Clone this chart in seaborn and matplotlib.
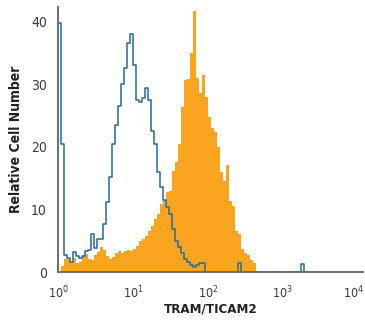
import numpy as np
import pandas as pd
import matplotlib
matplotlib.use("Agg")
import matplotlib.pyplot as plt
import matplotlib.ticker as mticker
import matplotlib.transforms as mtransforms
import seaborn as sns

# ── Histogram data (channel counts, 0.04-decade bins starting at 10^0) ──
BIN_WIDTH = 0.04   # log10 units

# isotype control (blue outline)
control_counts = [
    39.7, 20.5, 2.7, 2.3, 1.6, 3.2, 2.5, 2.2, 2.6, 3.3,
    3.5, 6.0, 3.8, 5.2, 5.2, 7.7, 11.2, 15.2, 20.5, 23.5,
    26.5, 30.0, 32.5, 36.5, 38.0, 33.0, 27.4, 27.2, 27.8, 29.4,
    27.5, 22.5, 20.5, 16.0, 13.5, 11.5, 10.4, 9.2, 6.8, 5.0,
    4.0, 3.0, 2.0, 1.6, 1.1, 0.8, 1.1, 1.4, 1.4, 0.0,
    0.0, 0.0, 0.0, 0.0, 0.0, 0.0, 0.0, 0.0, 0.0, 0.0,
    1.4, 0.0, 0.0, 0.0, 0.0, 0.0, 0.0, 0.0, 0.0, 0.0,
    0.0, 0.0, 0.0, 0.0, 0.0, 0.0, 0.0, 0.0, 0.0, 0.0,
    0.0, 1.2, 0.0,
]

# TRAM/TICAM2 stained (orange fill)
stained_counts = [
    0.0, 1.0, 2.0, 2.0, 1.6, 2.2, 1.5, 1.6, 2.5, 2.8,
    2.0, 1.9, 2.7, 3.2, 4.0, 3.5, 2.6, 2.1, 2.4, 3.0,
    3.3, 3.0, 3.4, 3.5, 3.3, 3.6, 4.2, 5.0, 5.3, 5.8,
    6.5, 7.4, 8.5, 9.3, 10.9, 11.5, 12.8, 13.0, 16.2, 17.5,
    20.5, 26.3, 30.6, 30.8, 35.0, 41.7, 31.0, 28.5, 31.5, 28.0,
    24.7, 23.0, 22.3, 19.9, 16.0, 14.5, 17.0, 11.4, 10.6, 6.6,
    6.1, 3.6, 3.0, 2.7, 1.9, 1.4,
]

y_ticks = [0, 10, 20, 30, 40]
x_ticks = [1, 10, 100, 1000, 10000]

ORANGE = "#fba41f"
BLUE = "#2f6c99"
AXIS_GREY = "#6b6b6b"


def to_frame(counts):
    n = len(counts)
    centers = (np.arange(n) + 0.5) * BIN_WIDTH
    edges = (np.arange(n + 1) * BIN_WIDTH).tolist()
    return pd.DataFrame({"value": 10 ** centers, "count": counts}), edges


stained_df, st_edges = to_frame(stained_counts)
control_df, ct_edges = to_frame(control_counts)

sns.set_style("white")
plt.rcParams["font.family"] = ["DejaVu Sans"]
plt.rcParams["font.stretch"] = "condensed"
plt.rcParams["mathtext.fontset"] = "custom"
plt.rcParams["mathtext.rm"] = "DejaVu Sans:stretch=condensed"

fig = plt.figure(figsize=(3.65, 3.2), dpi=100)
ax = fig.add_axes([58 / 365, 48 / 320, (363 - 58) / 365, (272 - 7) / 320])

sns.histplot(data=stained_df, x="value", weights="count",
             bins=st_edges, log_scale=True,
             element="step", fill=True, color=ORANGE, alpha=1.0,
             linewidth=0, ax=ax)
sns.histplot(data=control_df, x="value", weights="count",
             bins=ct_edges, log_scale=True,
             element="step", fill=False, color=BLUE, linewidth=1.15, ax=ax)

ax.set_xlim(1, 10 ** 4.07)
ax.set_ylim(0, 42.3)

ax.set_xticks(x_ticks)
ax.xaxis.set_major_formatter(mticker.LogFormatterMathtext())
ax.xaxis.set_minor_locator(mticker.LogLocator(base=10, subs=np.arange(2, 10)))
ax.xaxis.set_minor_formatter(mticker.NullFormatter())
ax.set_yticks(y_ticks)

for side in ("top", "right"):
    ax.spines[side].set_visible(False)
for side in ("left", "bottom"):
    ax.spines[side].set_color(AXIS_GREY)
    ax.spines[side].set_linewidth(1.4)

ax.tick_params(axis="both", which="major", direction="out", length=7,
               width=1.0, color=AXIS_GREY, labelcolor="#3a3a3a")
ax.tick_params(axis="y", labelsize=10, pad=1)
ax.tick_params(axis="x", labelsize=9, pad=2)
ax.tick_params(axis="x", which="minor", direction="out", length=4.5,
               width=0.8, color=AXIS_GREY)

# nudge the last decade label so it stays inside the figure
last = ax.get_xticklabels()[-1]
last.set_transform(last.get_transform() +
                   mtransforms.ScaledTranslation(-4 / 100, 0, fig.dpi_scale_trans))

ax.set_xlabel("TRAM/TICAM2", fontsize=9.5, fontweight="bold",
              color="#222222", labelpad=1)
ax.set_ylabel("Relative Cell Number", fontsize=10, fontweight="bold",
              color="#222222", labelpad=6)

fig.savefig("out.png", dpi=100)
